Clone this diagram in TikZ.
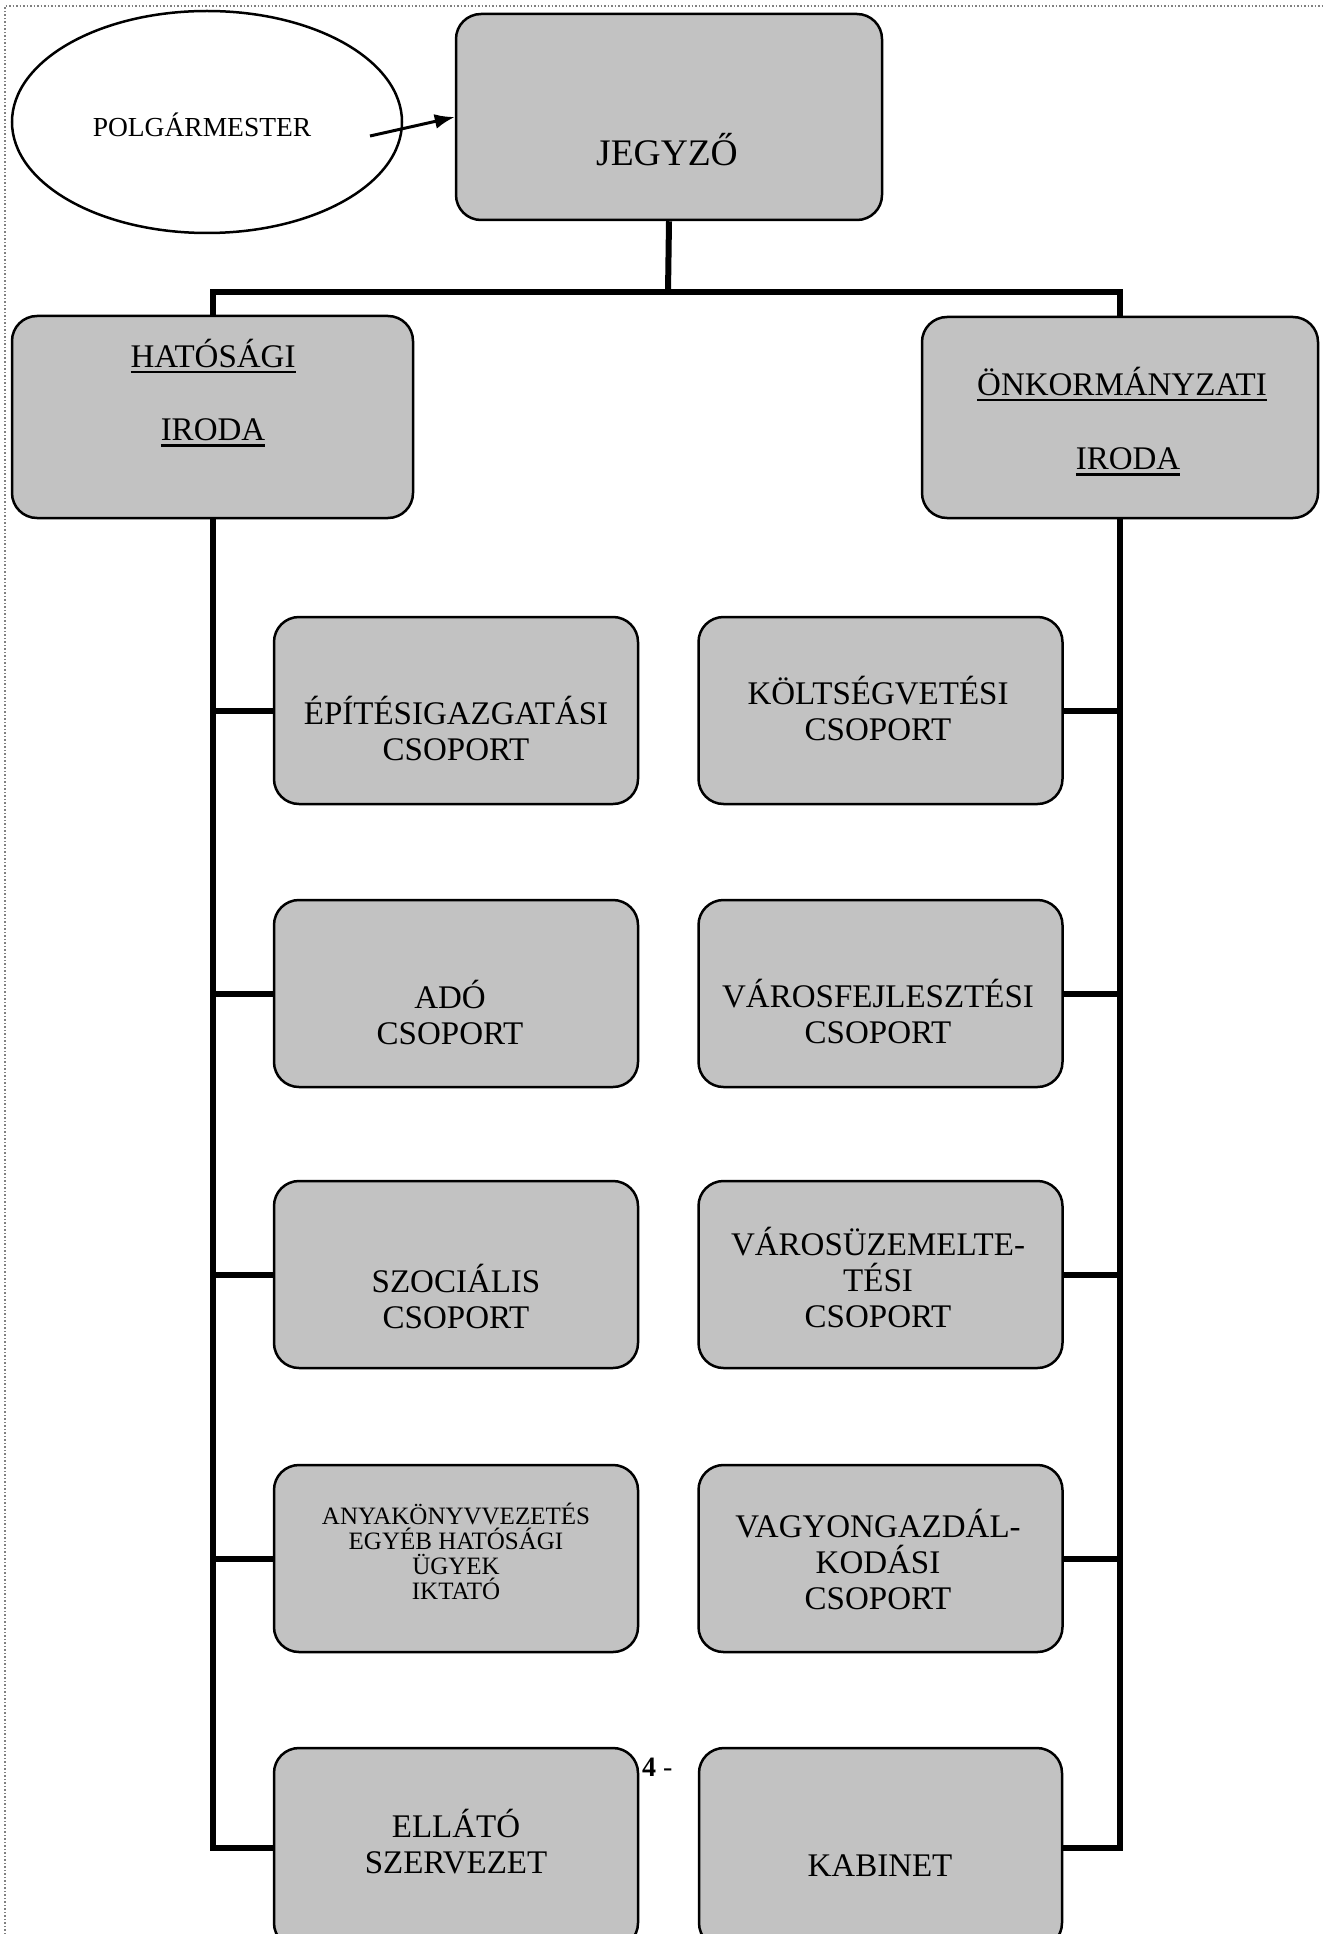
\documentclass[tikz,border=0pt]{standalone}
\usepackage{fontspec}
\setmainfont{Liberation Serif}
\usetikzlibrary{arrows.meta,shapes.geometric}
\definecolor{boxfill}{gray}{0.76}
\newcommand\ulx[1]{\setbox0=\hbox{#1}\rlap{\rule[-6pt]{\wd0}{2.5pt}}\box0}
\begin{document}
\begin{tikzpicture}[x=1pt,y=-1pt,
  box/.style={draw=black, line width=2.5pt, fill=boxfill, rounded corners=25pt, inner sep=0pt},
  colbox/.style={box, minimum width=364pt, minimum height=187pt},
  conn/.style={line width=6pt},
  txt/.style={align=center, inner sep=0pt, font=\fontsize{33}{36}\selectfont},
  smalltxt/.style={align=center, inner sep=0pt, font=\fontsize{25}{25}\selectfont}
]
\useasboundingbox (0,0) rectangle (1322,1934);
\fill[white] (0,0) rectangle (1322,1934);
\draw[gray, dotted, line width=1.5pt] (5,1934) -- (5,6) -- (1322,6);

% top
\node[draw, ellipse, line width=2.5pt, fill=white, minimum width=390pt, minimum height=222pt, inner sep=0pt] (polg) at (207,122) {};
\node[inner sep=0pt, font=\fontsize{27.5}{30}\selectfont] (polgt) at (202,125) {POLGÁRMESTER};
\node[box, minimum width=426pt, minimum height=206pt] (jegyzo) at (669,117) {};
\node[inner sep=0pt, font=\fontsize{37.5}{40}\selectfont] (jegyzot) at (667,150) {JEGYZŐ};

% offices
\node[box, minimum width=401pt, minimum height=202pt] (hat) at (212.5,417) {};
\node[txt] (hatt1) at (213,356) {\ulx{HATÓSÁGI}};
\node[txt] (hatt2) at (213,433) {\ulx{IRODA}};
\node[box, minimum width=396pt, minimum height=201pt] (onk) at (1120,417.5) {};
\node[txt] (onkt1) at (1122,384) {\ulx{ÖNKORMÁNYZATI}};
\node[txt] (onkt2) at (1128,462) {\ulx{IRODA}};

% left column
\node[colbox] (l1) at (456,710.5) {};
\node[colbox] (l2) at (456,993.5) {};
\node[colbox] (l3) at (456,1274.5) {};
\node[colbox] (l4) at (456,1558.5) {};
\node[box, minimum width=364pt, minimum height=200pt] (l5) at (456,1848) {};
% right column
\node[colbox] (r1) at (880.5,710.5) {};
\node[colbox] (r2) at (880.5,993.5) {};
\node[colbox] (r3) at (880.5,1274.5) {};
\node[colbox] (r4) at (880.5,1558.5) {};
\node[box, minimum width=363pt, minimum height=200pt] (r5) at (880.5,1848) {};

% texts
\node[txt] (l1t) at (456,728) {ÉPÍTÉSIGAZGATÁSI\\CSOPORT};
\node[txt] (l2t) at (450,1012) {ADÓ\\CSOPORT};
\node[txt] (l3t) at (456,1296) {SZOCIÁLIS\\CSOPORT};
\node[smalltxt] (l4t) at (456,1551) {ANYAKÖNYVVEZETÉS\\EGYÉB HATÓSÁGI\\ÜGYEK\\IKTATÓ};
\node[txt] (l5t) at (456,1842) {ELLÁTÓ\\SZERVEZET};
\node[txt] (r1t) at (878,708) {KÖLTSÉGVETÉSI\\CSOPORT};
\node[txt] (r2t) at (878,1011) {VÁROSFEJLESZTÉSI\\CSOPORT};
\node[txt] (r3t) at (878,1277) {VÁROSÜZEMELTE-\\TÉSI\\CSOPORT};
\node[txt] (r4t) at (878,1559) {VAGYONGAZDÁL-\\KODÁSI\\CSOPORT};
\node[txt] (r5t) at (880,1866) {KABINET};

\node[anchor=base west, inner sep=0pt, font=\fontsize{28}{28}\selectfont] (pnum) at (642,1776) {\textbf{4} -};

% connectors
\coordinate (astart) at (370,136);
\draw[line width=3pt, -{Latex[length=20pt,width=15pt]}] (astart) -- (jegyzo.west);
\coordinate (bus) at (668,292);
\draw[conn] (jegyzo.south) -- (bus);
\draw[conn] (hat.north) |- (bus) -| (onk.north);
\draw[conn] (hat.south) |- (l5.west);
\draw[conn] (onk.south) |- (r5.east);
\foreach \n in {l1,l2,l3,l4} \draw[conn] (\n.west) -- (\n.west -| hat.south);
\foreach \n in {r1,r2,r3,r4} \draw[conn] (\n.east) -- (\n.east -| onk.south);
\end{tikzpicture}
\end{document}
